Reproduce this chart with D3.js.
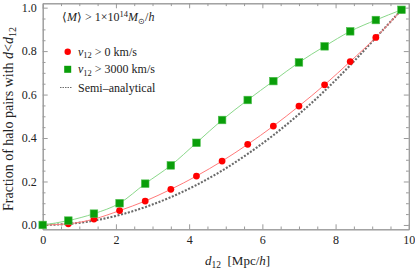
<!DOCTYPE html>
<html>
<head>
<meta charset="utf-8">
<script src="https://cdn.jsdelivr.net/npm/d3@7"></script>
<style>
  body { margin: 0; background: #fff; }
  svg { display: block; }
  .frame path.domain { stroke: #9a9a9a; }
  .frame line { stroke: #9a9a9a; }
  .frame text { fill: #222; }
</style>
</head>
<body>
<svg width="415" height="272"></svg>
<script>
// bin centres of d12 (Mpc/h)
const d12 = [0, 0.7, 1.4, 2.1, 2.8, 3.5, 4.2, 4.9, 5.6, 6.3, 7.0, 7.7, 8.4, 9.1, 9.8];
// v12 > 0 km/s (red)
const fracAll = [0, 0.005, 0.027, 0.066, 0.11, 0.164, 0.225, 0.294, 0.371, 0.455, 0.547, 0.645, 0.752, 0.863, 0.99];
// v12 > 3000 km/s (green)
const fracFast = [0, 0.02, 0.052, 0.1, 0.19, 0.274, 0.378, 0.483, 0.575, 0.662, 0.748, 0.822, 0.891, 0.943, 0.99];
// semi-analytical curve (dashed)
const fracSemi = [0, 0.005, 0.02, 0.046, 0.082, 0.128, 0.184, 0.25, 0.327, 0.413, 0.51, 0.617, 0.735, 0.862, 0.99];

const xTicks = [0, 2, 4, 6, 8, 10];
const yTicks = [0, 0.2, 0.4, 0.6, 0.8, 1.0];

const serif = "'Liberation Serif'";
const svg = d3.select('svg');
const pL = 42.7, pR = 408.8, pT = 3.3, pB = 229.3;

const x = d3.scaleLinear().domain([0, 10]).range([pL, pR]);
const y = d3.scaleLinear().domain([-0.02, 1.02]).range([pB, pT]);

const xMinor = d3.range(0, 10.01, 0.5).filter(v => Math.abs(v % 2) > 1e-6);
const yMinor = d3.range(0, 1.001, 0.05).map(v => +v.toFixed(2)).filter(v => Math.abs(Math.round(v * 100) % 20) > 0);

// frame: bottom/left with labels, top/right without
function addAxis(axisFn, transform, ticks, len, labels, fmt) {
  const a = axisFn.tickValues(ticks).tickSizeInner(-len).tickSizeOuter(0).tickPadding(6);
  if (!labels) a.tickFormat('');
  else if (fmt) a.tickFormat(fmt);
  const g = svg.append('g').attr('class', 'frame').attr('transform', transform).call(a);
  g.selectAll('text').style('font-family', serif).style('font-size', '12px');
}
addAxis(d3.axisBottom(x), `translate(0,${pB})`, xMinor, 2.8, false);
addAxis(d3.axisBottom(x), `translate(0,${pB})`, xTicks, 5, true, d3.format('d'));
addAxis(d3.axisTop(x), `translate(0,${pT})`, xMinor, 2.8, false);
addAxis(d3.axisTop(x), `translate(0,${pT})`, xTicks, 5, false);
addAxis(d3.axisLeft(y), `translate(${pL},0)`, yMinor, 2.8, false);
addAxis(d3.axisLeft(y), `translate(${pL},0)`, yTicks, 5, true, d3.format('.1f'));
addAxis(d3.axisRight(y), `translate(${pR},0)`, yMinor, 2.8, false);
addAxis(d3.axisRight(y), `translate(${pR},0)`, yTicks, 5, false);

const line = d3.line().x((d, i) => x(d12[i])).y(d => y(d)).curve(d3.curveMonotoneX);

// semi-analytical dashed curve
svg.append('path').attr('d', line(fracSemi)).attr('fill', 'none')
  .attr('stroke', '#6a6a6a').attr('stroke-width', 2.1).attr('stroke-dasharray', '2,1.6');

// red series
svg.append('path').attr('d', line(fracAll)).attr('fill', 'none')
  .attr('stroke', '#ff7a7a').attr('stroke-width', 1);
// green series
svg.append('path').attr('d', line(fracFast)).attr('fill', 'none')
  .attr('stroke', '#8ad88a').attr('stroke-width', 1);

svg.selectAll('circle.red').data(fracAll).join('circle').attr('class', 'red')
  .attr('cx', (d, i) => x(d12[i])).attr('cy', d => y(d)).attr('r', 3.4)
  .attr('fill', '#ff0000');

svg.selectAll('rect.green').data(fracFast).join('rect').attr('class', 'green')
  .attr('x', (d, i) => x(d12[i]) - 3.8).attr('y', d => y(d) - 3.8)
  .attr('width', 7.6).attr('height', 7.6)
  .attr('fill', '#0a9e0a').attr('stroke', '#4cbf4c').attr('stroke-width', 0.6);

// legend
const leg = svg.append('g').attr('fill', '#222');
function txt(sel) { return sel.style('font-family', serif).style('font-size', '12px'); }

const title = txt(leg.append('text').attr('x', 62).attr('y', 21));
title.append('tspan').text('\u27E8');
title.append('tspan').attr('font-style', 'italic').text('M');
title.append('tspan').text('\u27E9 > 1\u00D710');
title.append('tspan').style('font-size', '8.5px').attr('dy', -4.5).text('14');
title.append('tspan').attr('dy', 4.5).attr('font-style', 'italic').text('M');
title.append('tspan').style('font-size', '8px').attr('dy', 2.5).text('\u2299');
title.append('tspan').attr('dy', -2.5).text('/');
title.append('tspan').attr('font-style', 'italic').text('h');

leg.append('circle').attr('cx', 67.7).attr('cy', 51.7).attr('r', 3.2).attr('fill', '#ff0000');
leg.append('rect').attr('x', 64.2).attr('y', 65.8).attr('width', 7).attr('height', 7).attr('fill', '#0a9e0a');
leg.append('line').attr('x1', 60).attr('x2', 72.5).attr('y1', 87.5).attr('y2', 87.5)
  .attr('stroke', '#6e6e6e').attr('stroke-width', 1).attr('stroke-dasharray', '1.5,1');

function vLabel(yy, rest) {
  const t = txt(leg.append('text').attr('x', 78).attr('y', yy));
  t.append('tspan').attr('font-style', 'italic').text('v');
  t.append('tspan').style('font-size', '8.5px').attr('dy', 2.5).text('12');
  t.append('tspan').attr('dy', -2.5).text(rest);
}
vLabel(55.5, ' > 0 km/s');
vLabel(73, ' > 3000 km/s');
txt(leg.append('text').attr('x', 78).attr('y', 91.5)).text('Semi\u2013analytical');

// axis titles
const xl = svg.append('text').attr('x', 205).attr('y', 265).attr('fill', '#222')
  .style('font-family', serif).style('font-size', '13px');
xl.append('tspan').attr('font-style', 'italic').text('d');
xl.append('tspan').style('font-size', '9.5px').attr('dy', 3).text('12');
xl.append('tspan').attr('dy', -3).text('\u2002[Mpc/');
xl.append('tspan').attr('font-style', 'italic').text('h');
xl.append('tspan').text(']');

const yl = svg.append('text').attr('transform', 'translate(13,119) rotate(-90)')
  .attr('text-anchor', 'middle').attr('fill', '#222')
  .style('font-family', serif).style('font-size', '14px');
yl.append('tspan').text('Fraction of halo pairs with ');
yl.append('tspan').attr('font-style', 'italic').text('d');
yl.append('tspan').text('<');
yl.append('tspan').attr('font-style', 'italic').text('d');
yl.append('tspan').style('font-size', '10px').attr('dy', 3).text('12');
</script>
</body>
</html>
